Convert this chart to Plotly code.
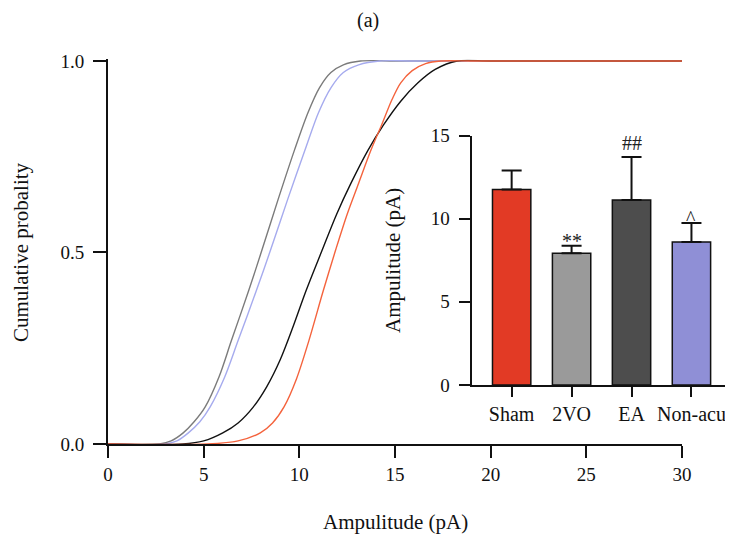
import plotly.graph_objects as go

# ---------------- data ----------------
# cumulative probability curves (amplitude pA vs probability)
sham_x = [0, 5.2, 6.8, 7.96, 8.6, 9.2, 9.85, 10.5, 11.25, 11.9, 12.5, 13.1, 13.75, 14.3, 14.85, 15.3, 15.9, 16.6, 17.4, 19, 22, 26, 30]
sham_p = [0, 0, 0.008, 0.029, 0.055, 0.097, 0.17, 0.27, 0.40, 0.507, 0.60, 0.681, 0.768, 0.833, 0.90, 0.943, 0.975, 0.993, 1.0, 1.0, 1.0, 1.0, 1.0]

vo_x = [0, 2.7, 3.3, 3.93, 4.5, 5.08, 5.8, 6.45, 7.35, 8.05, 8.9, 9.75, 10.45, 11.05, 11.65, 12.3, 13.2, 15, 20, 25, 30]
vo_p = [0, 0, 0.008, 0.029, 0.058, 0.097, 0.175, 0.27, 0.40, 0.507, 0.64, 0.768, 0.865, 0.93, 0.97, 0.99, 1.0, 1.0, 1.0, 1.0, 1.0]

ea_x = [0, 3.9, 5.0, 6.0, 6.8, 7.6, 8.3, 9.0, 9.7, 10.35, 11.2, 11.95, 12.7, 13.6, 14.4, 15.3, 16.2, 17.1, 18.25, 20, 25, 30]
ea_p = [0, 0, 0.008, 0.029, 0.055, 0.097, 0.15, 0.22, 0.31, 0.40, 0.507, 0.60, 0.681, 0.768, 0.833, 0.895, 0.943, 0.978, 1.0, 1.0, 1.0, 1.0]

nonacu_x = [0, 3.0, 3.6, 4.2, 4.8, 5.34, 6.1, 6.8, 7.75, 8.5, 9.4, 10.3, 11.0, 11.65, 12.3, 13.1, 14.2, 16, 20, 25, 30]
nonacu_p = [0, 0, 0.008, 0.029, 0.058, 0.097, 0.175, 0.27, 0.40, 0.507, 0.64, 0.768, 0.865, 0.93, 0.97, 0.99, 1.0, 1.0, 1.0, 1.0, 1.0]

# inset bar chart
groups = ["Sham", "2VO", "EA", "Non-acu"]
means = [11.75, 7.92, 11.12, 8.6]
sems = [1.15, 0.45, 2.58, 1.14]
marks = ["", "**", "##", "^"]

main_xticks = [0, 5, 10, 15, 20, 25, 30]
main_yticks = [0.0, 0.5, 1.0]
main_yticklabels = ["0.0", "0.5", "1.0"]
inset_yticks = [0, 5, 10, 15]

FONT = "Liberation Serif"
# the page body has an 8px margin: place the figure so it lands where the reference is
OFF = 8
W, H = 733 - OFF, 538 - OFF


def px(x):
    return (x - OFF) / W


def py(y):
    return (H - (y - OFF)) / H


fig = go.Figure()

curve_styles = [
    (vo_x, vo_p, "#7b7b7b", "2VO"),
    (nonacu_x, nonacu_p, "#a6abee", "Non-acu"),
    (ea_x, ea_p, "#111111", "EA"),
    (sham_x, sham_p, "#f4633d", "Sham"),
]
for xs, ps, col, name in curve_styles:
    fig.add_trace(go.Scatter(
        x=xs, y=ps, mode="lines", name=name,
        line=dict(color=col, width=1.4, shape="spline", smoothing=0.9),
        xaxis="x", yaxis="y", showlegend=False, hoverinfo="skip"))

bar_colors = ["#e23a25", "#9a9a9a", "#4d4d4d", "#8f8fd6"]
fig.add_trace(go.Bar(
    x=groups, y=means, xaxis="x2", yaxis="y2", width=0.64,
    marker=dict(color=bar_colors, line=dict(color="#111111", width=1.5)),
    error_y=dict(type="data", array=sems, arrayminus=[0] * len(sems), symmetric=False,
                 color="#111111", thickness=2, width=10),
    showlegend=False, hoverinfo="skip"))

# significance marks
mark_shift = {"**": -8, "##": 1, "^": -8}
for g, m, s, e in zip(groups, marks, means, sems):
    if m:
        fig.add_annotation(x=g, y=s + e, xref="x2", yref="y2", text=m,
                           showarrow=False, yanchor="bottom", xanchor="center",
                           yshift=mark_shift[m],
                           font=dict(family=FONT, size=20, color="#222"))

fig.update_layout(
    width=W, height=H, template=None,
    margin=dict(l=0, r=0, t=0, b=0),
    paper_bgcolor="white", plot_bgcolor="rgba(0,0,0,0)",
    font=dict(family=FONT, size=19, color="#111"),
    xaxis=dict(domain=[px(108), px(682)], range=[0, 30], tickvals=main_xticks,
               showline=True, linecolor="#111", linewidth=2, ticks="outside",
               ticklen=12, tickwidth=2, tickcolor="#111", showgrid=False, zeroline=False,
               automargin=False, tickfont=dict(family=FONT, size=19), anchor="y",
               ticklabelstandoff=0),
    yaxis=dict(domain=[py(444), py(61 - 0.004 * 383)], range=[0, 1.004], tickvals=main_yticks,
               ticktext=main_yticklabels,
               showline=True, linecolor="#111", linewidth=2, ticks="outside",
               ticklen=13, tickwidth=2, tickcolor="#111", showgrid=False, zeroline=False,
               automargin=False, tickfont=dict(family=FONT, size=19), anchor="x",
               ticklabelstandoff=5),
    xaxis2=dict(domain=[px(471.5), px(731)], range=[-0.67, 3.66], type="category",
                showline=True, linecolor="#111", linewidth=2, ticks="outside",
                ticklen=10, tickwidth=2, tickcolor="#111", showgrid=False, zeroline=False,
                automargin=False, tickfont=dict(family=FONT, size=20), anchor="y2",
                ticklabelstandoff=0),
    yaxis2=dict(domain=[py(385), py(135.5)], range=[0, 15], tickvals=inset_yticks,
                showline=True, linecolor="#111", linewidth=2, ticks="outside",
                ticklen=11, tickwidth=2, tickcolor="#111", showgrid=False, zeroline=False,
                automargin=False, tickfont=dict(family=FONT, size=19), anchor="x2",
                ticklabelstandoff=5),
)

# titles as annotations
title_font = dict(family=FONT, size=21, color="#111")
fig.add_annotation(x=px(368), y=py(21), xref="paper", yref="paper", text="(a)",
                   xanchor="center", yanchor="middle",
                   showarrow=False, font=dict(family=FONT, size=20, color="#111"))
fig.add_annotation(x=px(21), y=py(252), xref="paper", yref="paper",
                   text="Cumulative probality", textangle=-90, showarrow=False,
                   xanchor="center", yanchor="middle", font=title_font)
fig.add_annotation(x=px(395), y=py(522), xref="paper", yref="paper",
                   text="Ampulitude (pA)", showarrow=False,
                   xanchor="center", yanchor="middle", font=title_font)
fig.add_annotation(x=px(393), y=py(260), xref="paper", yref="paper",
                   text="Ampulitude (pA)", textangle=-90, showarrow=False,
                   xanchor="center", yanchor="middle", font=title_font)

fig.write_html("out.html")
